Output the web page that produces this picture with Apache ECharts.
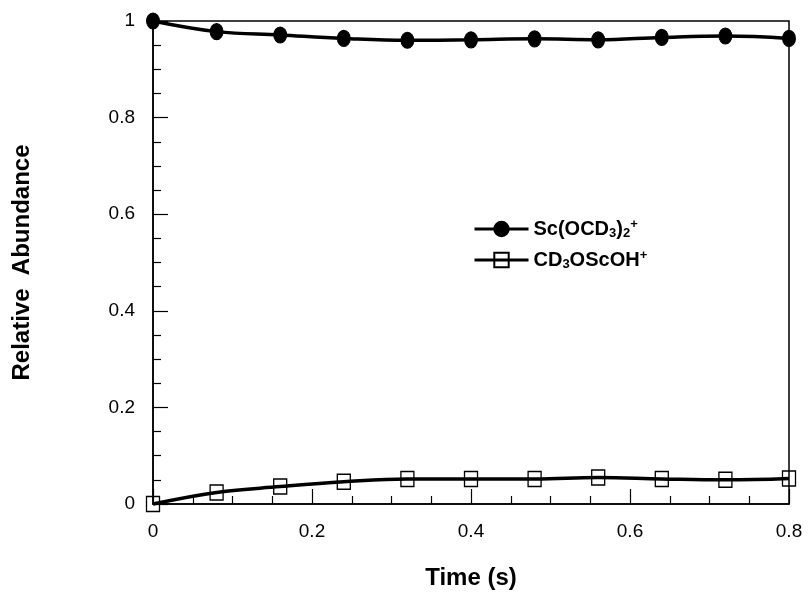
<!DOCTYPE html>
<html>
<head>
<meta charset="utf-8">
<script src="https://cdn.jsdelivr.net/npm/echarts@6/dist/echarts.min.js"></script>
<style>
  html, body { margin: 0; padding: 0; background: #fff; }
  #chart { width: 809px; height: 595px; }
</style>
</head>
<body>
<div id="chart"></div>
<script>
// time points (s)
const times = [0, 0.08, 0.16, 0.24, 0.32, 0.40, 0.48, 0.56, 0.64, 0.72, 0.80];
// Sc(OCD3)2+
const scOcd = [1.0, 0.978, 0.971, 0.964, 0.960, 0.961, 0.963, 0.961, 0.966, 0.969, 0.964];
// CD3OScOH+
const cdOscoh = [0.0, 0.024, 0.036, 0.046, 0.052, 0.052, 0.052, 0.055, 0.052, 0.050, 0.053];

const seriesNames = ['Sc(OCD3)2+', 'CD3OScOH+'];
const legendText = {
  'Sc(OCD3)2+': 'Sc(OCD{sub|3}){sub|2}{sup|+}',
  'CD3OScOH+': 'CD{sub|3}OScOH{sup|+}'
};

function pairs(xs, ys) {
  var out = [];
  for (var i = 0; i < xs.length; i++) out.push([xs[i], ys[i]]);
  return out;
}

var chart = echarts.init(document.getElementById('chart'));
var font = 'Liberation Sans, Arial, Helvetica, sans-serif';

var option = {
  animation: false,
  backgroundColor: '#fff',
  grid: {
    left: 153, right: 20, top: 21, bottom: 91,
    show: true, borderColor: '#000', borderWidth: 1.5
  },
  legend: {
    orient: 'vertical',
    left: 468, top: 213,
    itemWidth: 54, itemHeight: 18, itemGap: 9,
    data: seriesNames,
    lineStyle: { width: 3, color: '#000' },
    formatter: function (name) { return legendText[name]; },
    textStyle: {
      fontFamily: font, fontSize: 20, fontWeight: 'bold', color: '#000',
      lineHeight: 22,
      rich: {
        sub: { fontFamily: font, fontSize: 13, fontWeight: 'bold', color: '#000', lineHeight: 22, verticalAlign: 'bottom', padding: [9, 0, 0, 0] },
        sup: { fontFamily: font, fontSize: 13, fontWeight: 'bold', color: '#000', lineHeight: 22, verticalAlign: 'top', padding: [0, 0, 9, 0] }
      }
    }
  },
  xAxis: {
    type: 'value', min: 0, max: 0.8, interval: 0.2,
    name: 'Time (s)', nameLocation: 'middle', nameGap: 62,
    nameTextStyle: { fontFamily: font, fontSize: 24, fontWeight: 'bold', color: '#000' },
    axisLine: { lineStyle: { color: '#000', width: 1.5 } },
    axisTick: { inside: true, length: 15, lineStyle: { color: '#000', width: 1.2 } },
    minorTick: { show: true, splitNumber: 4, length: 8, lineStyle: { color: '#000', width: 1.2 } },
    splitLine: { show: false },
    axisLabel: {
      margin: 18, fontFamily: font, fontSize: 19, color: '#000',
      formatter: function (v) { return v === 0 ? '0' : String(+v.toFixed(1)); }
    }
  },
  yAxis: {
    type: 'value', min: 0, max: 1, interval: 0.2,
    name: 'Relative  Abundance', nameLocation: 'middle', nameGap: 119, nameRotate: 90,
    nameTextStyle: { fontFamily: font, fontSize: 24, fontWeight: 'bold', color: '#000' },
    axisLine: { lineStyle: { color: '#000', width: 1.5 } },
    axisTick: { inside: true, length: 15, lineStyle: { color: '#000', width: 1.2 } },
    minorTick: { show: true, splitNumber: 4, length: 8, lineStyle: { color: '#000', width: 1.2 } },
    splitLine: { show: false },
    axisLabel: {
      margin: 18, fontFamily: font, fontSize: 19, color: '#000',
      formatter: function (v) { return v === 0 ? '0' : v === 1 ? '1' : String(+v.toFixed(1)); }
    }
  },
  series: [
    {
      name: seriesNames[0], type: 'line', smooth: 0.4,
      data: pairs(times, scOcd),
      symbol: 'circle', symbolSize: [13, 16],
      lineStyle: { color: '#000', width: 3.5 },
      itemStyle: { color: '#000', borderColor: '#000', borderWidth: 1 },
      clip: false, z: 3
    },
    {
      name: seriesNames[1], type: 'line', smooth: 0.4,
      data: pairs(times, cdOscoh),
      symbol: 'rect', symbolSize: [13, 15],
      lineStyle: { color: '#000', width: 3.5 },
      itemStyle: { color: 'rgba(255,255,255,0)', borderColor: '#000', borderWidth: 1.4 },
      clip: false, z: 3
    }
  ]
};

chart.setOption(option);
</script>
</body>
</html>
